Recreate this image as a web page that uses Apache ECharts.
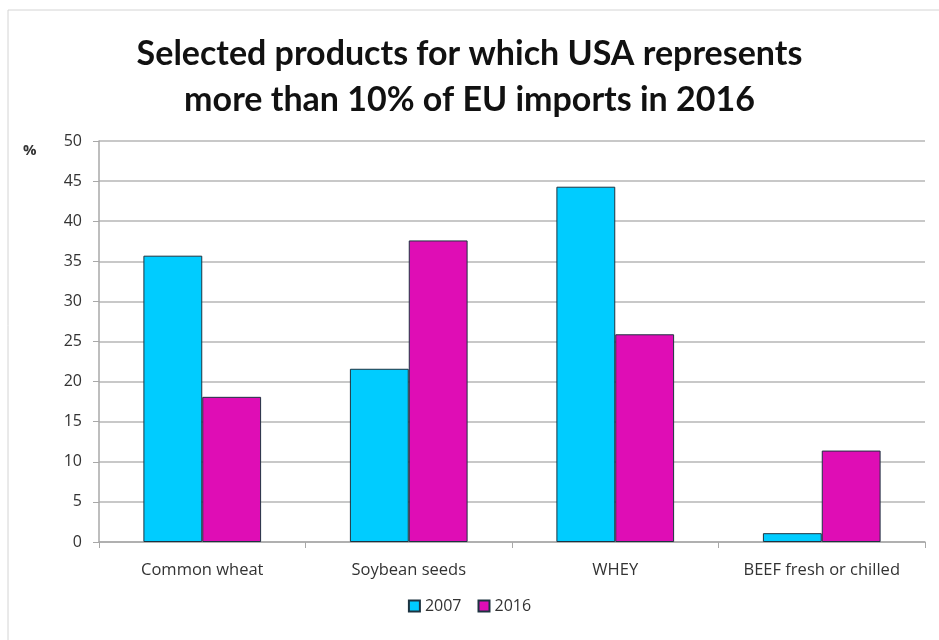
<!DOCTYPE html>
<html><head><meta charset="utf-8">
<script src="https://cdn.jsdelivr.net/npm/echarts@6/dist/echarts.min.js"></script>
<style>html,body{margin:0;padding:0;background:#fff}#c{width:939px;height:640px}</style>
</head><body><div id="c"></div>
<script>
const categories = ['Common wheat', 'Soybean seeds', 'WHEY', 'BEEF fresh or chilled'];
const values2007 = [35.7, 21.6, 44.3, 1.1];
const values2016 = [18.1, 37.6, 25.9, 11.4];
const seriesNames = ['2007', '2016'];
const titleText = 'Selected products for which USA represents\nmore than 10% of EU imports in 2016';

const chart = echarts.init(document.getElementById('c'), null, {renderer: 'canvas'});
const barBorder = {borderColor: '#1d3340', borderWidth: 1};
chart.setOption({
  animation: false,
  backgroundColor: '#fff',
  graphic: [
    {type: 'rect', shape: {x: 8, y: 10, width: 940, height: 640}, style: {fill: 'none', stroke: '#d4d4d4', lineWidth: 1}},
    {type: 'text', left: 23, top: 143, style: {text: '%', font: 'bold 15px "Open Sans"', fill: '#333'}}
  ],
  title: {
    text: titleText, left: 'center', top: 26,
    textStyle: {fontFamily: 'Lato', fontWeight: 'bold', fontSize: 34, lineHeight: 46, color: '#111'}
  },
  legend: {
    bottom: 21, left: 'center', itemWidth: 11, itemHeight: 11, itemGap: 16,
    icon: 'rect',
    textStyle: {fontFamily: '"Open Sans"', fontSize: 16, color: '#333'},
    data: seriesNames
  },
  grid: {left: 99, right: 14, top: 141, bottom: 98},
  xAxis: {
    type: 'category', data: categories,
    axisLine: {lineStyle: {color: '#a8a8a8', width: 1.5}},
    axisTick: {show: true, length: 6, lineStyle: {color: '#a8a8a8'}},
    axisLabel: {interval: 0, fontFamily: '"Open Sans"', fontSize: 16.5, color: '#333', margin: 20}
  },
  yAxis: {
    type: 'value', min: 0, max: 50, interval: 5,
    axisLine: {show: true, lineStyle: {color: '#a8a8a8', width: 1.5}},
    axisTick: {show: true, length: 6, lineStyle: {color: '#a8a8a8'}},
    axisLabel: {fontFamily: '"Open Sans"', fontSize: 16, color: '#333', margin: 17},
    splitLine: {lineStyle: {color: '#c8c8c8', width: 2}}
  },
  series: [
    {name: seriesNames[0], type: 'bar', data: values2007, barGap: '0%', barCategoryGap: '43%',
     itemStyle: Object.assign({color: '#00CCFF'}, barBorder)},
    {name: seriesNames[1], type: 'bar', data: values2016, barGap: '0%', barCategoryGap: '43%',
     itemStyle: Object.assign({color: '#DF0DB5'}, barBorder)}
  ]
});
</script></body></html>
